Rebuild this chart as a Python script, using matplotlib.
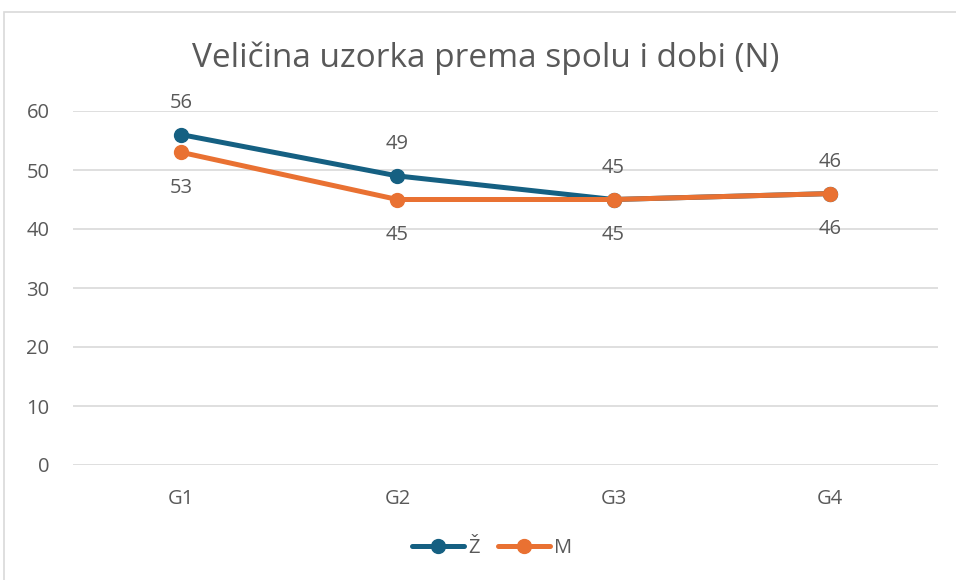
import matplotlib.pyplot as plt
from matplotlib.patches import Rectangle

# data
groups = ['G1', 'G2', 'G3', 'G4']
zene = [56, 49, 45, 46]
muski = [53, 45, 45, 46]

col_z = '#156082'
col_m = '#E97132'
txt = '#595959'
grid = '#D9D9D9'

plt.rcParams['font.family'] = ['Open Sans', 'DejaVu Sans']

fig = plt.figure(figsize=(9.56, 5.8), dpi=100)
# chart frame (only left/top edges visible in the original crop)
fig.patches.append(Rectangle((4/956, -0.1), 1.2, 1 - 12/580 + 0.1, transform=fig.transFigure,
                             fill=False, edgecolor=grid, linewidth=1.2))

ax = fig.add_axes([73/956, 1 - 465/580, (938 - 73)/956, (465 - 111)/580])
x = range(len(groups))
ax.plot(x, zene, color=col_z, linewidth=3.6, marker='o', markersize=10,
        solid_capstyle='round', label='Ž', zorder=3)
ax.plot(x, muski, color=col_m, linewidth=3.6, marker='o', markersize=10,
        solid_capstyle='round', label='M', zorder=4)

for i in x:
    ax.annotate(str(zene[i]), (i, zene[i]), xytext=(0, 23), textcoords='offset points',
                ha='center', va='center', fontsize=14.5, color=txt)
    ax.annotate(str(muski[i]), (i, muski[i]), xytext=(0, -25.5), textcoords='offset points',
                ha='center', va='center', fontsize=14.5, color=txt)

ax.set_xlim(-0.5, 3.5)
ax.set_ylim(0, 60)
ax.set_yticks(range(0, 61, 10))
ax.set_xticks(list(x))
ax.set_xticklabels(groups)
ax.grid(axis='y', color=grid, linewidth=1.2)
ax.set_axisbelow(True)
for s in ax.spines.values():
    s.set_visible(False)
ax.tick_params(length=0, labelsize=14.5, colors=txt)
ax.tick_params(axis='x', pad=17)
ax.tick_params(axis='y', pad=17)

fig.text(486/956, 1 - 58/580, 'Veličina uzorka prema spolu i dobi (N)', ha='center', va='center',
         fontsize=24, color=txt)

fig.legend(loc='center', bbox_to_anchor=(492/956, 1 - 548/580), ncol=2, frameon=False,
           fontsize=14.5, labelcolor=txt, handlelength=2.6, columnspacing=0.9, handletextpad=0.2)

fig.savefig('out.png', dpi=100, facecolor='white')
